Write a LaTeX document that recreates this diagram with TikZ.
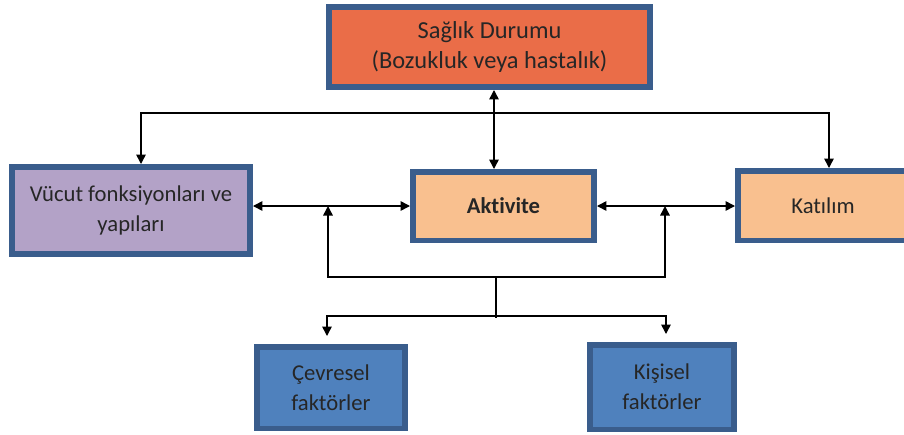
\documentclass[tikz,border=0pt]{standalone}
\usepackage{fontspec}
\setmainfont{Carlito}[Ligatures=NoCommon]
\usetikzlibrary{positioning}
\usetikzlibrary{arrows.meta}
\usetikzlibrary{math}
\usetikzlibrary{calc}

\definecolor{boxborder}{HTML}{3A5D8C}
\definecolor{saglikfill}{HTML}{EA6D48}
\definecolor{vucutfill}{HTML}{B3A2C7}
\definecolor{aktfill}{HTML}{F9C08F}
\definecolor{faktorfill}{HTML}{4F81BD}
\definecolor{textdark}{HTML}{262626}

\begin{document}
\begin{tikzpicture}[
  x=0.02cm, y=-0.02cm,
  line width=0.03cm,
  box/.style={draw=boxborder, line width=0.11cm, align=center, text=textdark,
    inner sep=0pt, font=\fontsize{12.9}{17}\selectfont},
  link/.style={-{Triangle[length=0.19cm,width=0.19cm]}},
  both/.style={{Triangle[length=0.19cm,width=0.19cm]}-{Triangle[length=0.19cm,width=0.19cm]}},
  ]

  \tikzmath{
    \midx  = 494; % x of the link from Saglik to Aktivite
    \topy  = 113; % y of the upper bus
    \lowy  = 277; % y of the lower bus
    \forky = 316; % y of the fork to the factors
  }

  \useasboundingbox (0,0) rectangle (904,434);

  % Boxes
  \node[box, fill=saglikfill, minimum width=6.43cm, minimum height=1.61cm,
    font=\fontsize{13.9}{17.5}\selectfont] (saglik) at (489.5,47)
    {Sağlık Durumu\\(Bozukluk veya hastalık)};
  \node[box, fill=vucutfill, minimum width=4.77cm, minimum height=1.75cm] (vucut) at (131,210.5)
    {Vücut fonksiyonları ve\\yapıları};
  \node[box, fill=aktfill, minimum width=3.63cm, minimum height=1.37cm,
    font=\fontsize{12.9}{17}\selectfont\bfseries] (aktivite) at (503.5,206) {Aktivite};
  % runs past the right edge of the page
  \node[box, fill=aktfill, minimum width=3.61cm, minimum height=1.39cm] (katilim) at (828,205.5)
    {Katılım\hspace{0.2cm}};
  \node[box, fill=faktorfill, minimum width=2.97cm, minimum height=1.63cm] (cevresel) at (331,387.5)
    {Çevresel\\faktörler};
  \node[box, fill=faktorfill, minimum width=2.89cm, minimum height=1.69cm] (kisisel) at (662,387)
    {Kişisel\\faktörler};

  % Upper bus
  \coordinate (busL) at (141,\topy);
  \coordinate (busM) at (\midx,\topy);
  \coordinate (busR) at (829,\topy);
  \draw[link] (busM) -- (busL) -- (busL |- vucut.north);
  \draw[link] (busM) -- (busR) -- (busR |- katilim.north);
  \draw[both] (busM |- saglik.south) -- (busM |- aktivite.north);

  % Middle row
  \draw[both] (vucut.east |- aktivite.west) -- (aktivite.west);
  \draw[both] (aktivite.east) -- (katilim.west |- aktivite.east);

  % Lower bus
  \coordinate (upL) at (328,\lowy);
  \coordinate (drop) at (496,\lowy);
  \coordinate (upR) at (665,\lowy);
  \draw[link] (drop) -- (upL) -- (upL |- aktivite.west);
  \draw[link] (drop) -- (upR) -- (upR |- aktivite.east);

  % Fork to the factors
  \coordinate (fork) at (496,\forky);
  \coordinate (forkL) at (327,\forky);
  \coordinate (forkR) at (666,\forky);
  \draw (drop) -- ($(fork)+(0,2)$);
  \draw[link, shorten >=0.16cm] (fork) -- (forkL) -- (forkL |- cevresel.north);
  \draw[link, shorten >=0.16cm] (fork) -- (forkR) -- (forkR |- kisisel.north);

\end{tikzpicture}
\end{document}
